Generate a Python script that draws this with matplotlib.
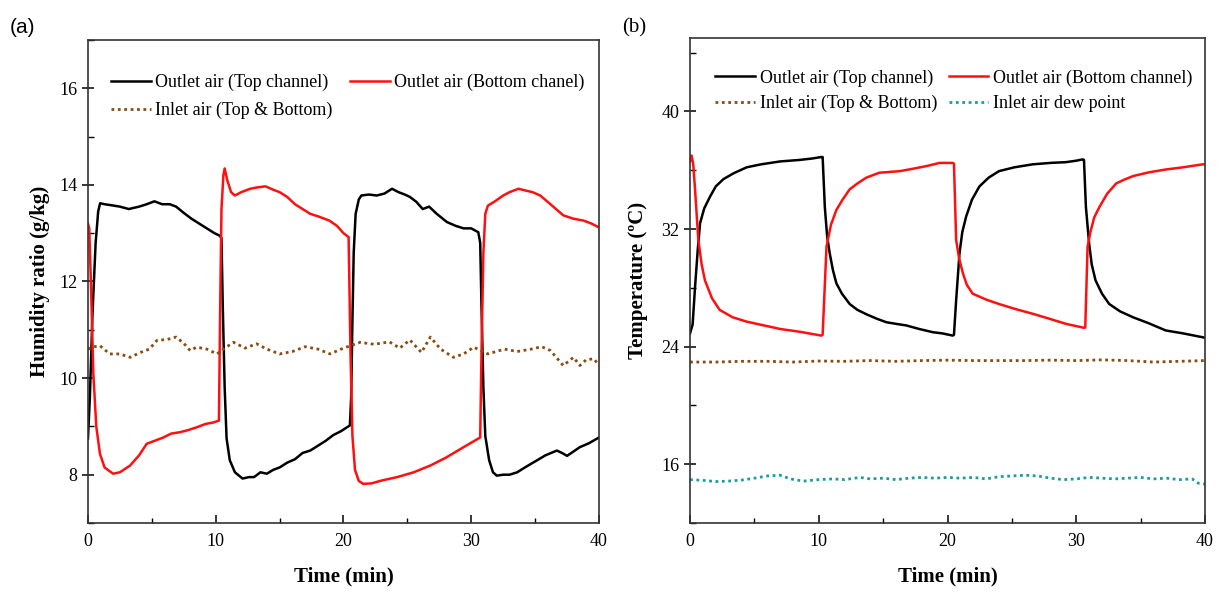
import matplotlib
matplotlib.use("Agg")
import matplotlib.pyplot as plt
from matplotlib.ticker import MultipleLocator

# ---------------- data: panel (a) humidity ratio ----------------
ta_top = [0, 0.15, 0.35, 0.6, 0.8, 0.95, 1.3, 1.8, 2.5, 3.2, 4.0, 4.6, 5.2, 5.8, 6.4, 6.9,
          7.5, 8.1, 8.7, 9.3, 9.9, 10.3, 10.45, 10.55, 10.7, 10.85, 11.1, 11.5, 12.1, 12.6,
          13.0, 13.5, 14.0, 14.5, 15.0, 15.6, 16.2, 16.8, 17.4, 18.0, 18.6, 19.2, 19.8, 20.5,
          20.6, 20.7, 20.8, 20.95, 21.2, 21.4, 22.0, 22.6, 23.2, 23.8, 24.3, 24.8, 25.2, 25.7,
          26.2, 26.7, 27.3, 28.1, 28.8, 29.4, 30.0, 30.55, 30.7, 30.8, 30.95, 31.1, 31.4, 31.7,
          32.0, 32.5, 33.0, 33.6, 34.2, 35.1, 35.8, 36.7, 37.1, 37.5, 38.0, 38.5, 39.2, 40.0]
ha_top = [8.75, 9.6, 11.3, 12.8, 13.45, 13.62, 13.6, 13.58, 13.55, 13.5, 13.55, 13.6, 13.66, 13.6, 13.6, 13.55,
          13.42, 13.3, 13.2, 13.1, 13.0, 12.95, 12.9, 11.5, 9.8, 8.75, 8.3, 8.05, 7.92, 7.95,
          7.95, 8.05, 8.02, 8.1, 8.15, 8.25, 8.32, 8.45, 8.5, 8.6, 8.7, 8.82, 8.9, 9.02,
          9.6, 11.2, 12.6, 13.4, 13.7, 13.78, 13.8, 13.78, 13.82, 13.92, 13.85, 13.8, 13.75, 13.65,
          13.5, 13.55, 13.4, 13.23, 13.15, 13.1, 13.1, 13.02, 12.8, 11.5, 9.8, 8.8, 8.3, 8.05,
          7.98, 8.0, 8.0, 8.05, 8.15, 8.29, 8.4, 8.5, 8.45, 8.39, 8.48, 8.57, 8.65, 8.77]

ta_bot = [0, 0.1, 0.25, 0.42, 0.65, 0.94, 1.3, 1.97, 2.5, 3.3, 4.0, 4.6, 5.2, 5.9, 6.5, 7.2,
          7.8, 8.5, 9.2, 9.8, 10.25, 10.35, 10.45, 10.6, 10.7, 10.9, 11.2, 11.5, 12.0, 12.7,
          13.3, 13.9, 14.5, 15.0, 15.6, 16.2, 16.8, 17.4, 18.0, 18.9, 19.5, 20.0, 20.4, 20.55,
          20.7, 20.9, 21.2, 21.55, 22.2, 23.0, 24.2, 25.5, 26.8, 28.0, 29.4, 30.7, 30.8, 30.95,
          31.1, 31.3, 31.8, 32.5, 33.0, 33.7, 34.3, 34.8, 35.4, 36.2, 37.2, 38.0, 38.8, 39.4, 40.0]
ha_bot = [13.2, 13.1, 11.8, 10.1, 9.0, 8.43, 8.15, 8.02, 8.05, 8.19, 8.4, 8.64, 8.7, 8.77, 8.85, 8.88,
          8.92, 8.98, 9.05, 9.08, 9.12, 11.5, 13.5, 14.2, 14.34, 14.1, 13.85, 13.78, 13.85, 13.92,
          13.95, 13.97, 13.9, 13.85, 13.75, 13.6, 13.5, 13.4, 13.35, 13.26, 13.15, 13.0, 12.92, 10.5,
          8.8, 8.1, 7.87, 7.81, 7.82, 7.88, 7.95, 8.05, 8.19, 8.35, 8.57, 8.77, 10.5, 12.6,
          13.4, 13.57, 13.65, 13.78, 13.85, 13.92, 13.88, 13.85, 13.78, 13.6, 13.37, 13.3, 13.26, 13.2, 13.12]

ta_in = [0, 0.5, 0.94, 1.7, 2.5, 3.3, 4.1, 4.8, 5.4, 6.2, 6.9, 7.5, 8.0, 8.5, 9.3, 10.1, 10.7,
         11.4, 12.3, 13.2, 14.0, 15.0, 16.0, 17.0, 18.0, 18.94, 20.0, 21.3, 22.4, 23.6, 24.4,
         25.2, 26.1, 26.8, 27.6, 28.6, 29.4, 30.2, 31.3, 32.6, 33.6, 34.7, 35.5, 36.2, 37.2,
         38.0, 38.5, 39.0, 39.6, 40.0]
ha_in = [10.6, 10.65, 10.67, 10.5, 10.5, 10.43, 10.53, 10.6, 10.78, 10.8, 10.85, 10.72, 10.57, 10.64, 10.6, 10.5, 10.62,
         10.74, 10.62, 10.71, 10.6, 10.5, 10.55, 10.65, 10.6, 10.5, 10.62, 10.74, 10.7, 10.75, 10.62,
         10.79, 10.53, 10.85, 10.6, 10.43, 10.5, 10.64, 10.5, 10.6, 10.55, 10.6, 10.65, 10.57, 10.26,
         10.43, 10.26, 10.38, 10.4, 10.26]

# ---------------- data: panel (b) temperature ----------------
tb_top = [0, 0.2, 0.39, 0.6, 0.78, 1.1, 1.55, 2.0, 2.6, 3.4, 4.4, 5.5, 7.0, 8.5, 9.5, 10.2, 10.3,
          10.47, 10.65, 10.85, 11.1, 11.37, 11.8, 12.4, 13.0, 13.7, 14.5, 15.25, 16.0, 16.8, 17.8,
          18.86, 19.6, 20.4, 20.5, 20.67, 20.93, 21.15, 21.45, 21.9, 22.48, 23.2, 24.0, 25.2, 26.6,
          28.0, 29.2, 30.0, 30.5, 30.6, 30.75, 31.0, 31.2, 31.5, 32.0, 32.56, 33.4, 34.4, 35.6,
          36.95, 38.3, 39.8, 40.0]
Tb_top = [24.9, 25.5, 28.06, 30.6, 32.4, 33.4, 34.2, 34.9, 35.4, 35.8, 36.2, 36.4, 36.6, 36.7, 36.8, 36.9, 36.9,
          33.5, 31.5, 30.35, 29.2, 28.3, 27.6, 26.9, 26.5, 26.2, 25.9, 25.66, 25.55, 25.44, 25.2,
          24.98, 24.9, 24.75, 24.8, 27.15, 30.35, 31.8, 32.86, 34.0, 34.9, 35.5, 35.94, 36.2, 36.4,
          36.5, 36.55, 36.65, 36.74, 36.7, 33.5, 31.0, 29.6, 28.5, 27.6, 26.9, 26.4, 26.0, 25.6,
          25.1, 24.9, 24.64, 24.6]

tb_bot = [0, 0.12, 0.25, 0.39, 0.64, 0.9, 1.16, 1.7, 2.3, 3.3, 4.4, 5.7, 7.0, 8.6, 10.2, 10.3,
          10.6, 10.95, 11.37, 11.85, 12.4, 13.0, 13.7, 14.7, 16.3, 17.3, 18.35, 19.4, 20.4, 20.5,
          20.67, 20.9, 21.2, 21.5, 21.96, 23.0, 24.0, 25.3, 26.6, 27.9, 29.2, 30.6, 30.7, 30.88,
          31.1, 31.4, 31.8, 32.4, 33.1, 33.7, 34.4, 35.6, 36.95, 38.3, 39.8, 40.0]
Tb_bot = [36.6, 37.0, 36.4, 34.7, 31.3, 29.6, 28.5, 27.3, 26.5, 26.0, 25.7, 25.45, 25.2, 25.0, 24.75, 24.8,
          30.8, 32.3, 33.3, 34.0, 34.7, 35.1, 35.5, 35.83, 35.94, 36.1, 36.28, 36.5, 36.5, 36.45,
          31.26, 30.0, 28.98, 28.2, 27.6, 27.2, 26.9, 26.55, 26.24, 25.9, 25.55, 25.28, 25.3, 30.8,
          31.8, 32.8, 33.5, 34.4, 35.1, 35.35, 35.6, 35.85, 36.05, 36.2, 36.4, 36.4]

tb_in = [0, 2, 4, 6, 8, 10, 12, 14, 16, 18, 20, 22, 24, 26, 28, 30, 32, 34, 36, 38, 40]
Tb_in = [22.95, 22.95, 23.0, 23.0, 22.95, 23.02, 23.0, 23.05, 23.0, 23.05, 23.08, 23.05, 23.05,
         23.05, 23.08, 23.05, 23.1, 23.05, 22.95, 23.0, 23.05]

tb_dew = [0, 1, 2, 3, 4, 5, 6, 7, 7.8, 8.8, 10, 11.1, 12, 13.2, 14, 15, 16, 17, 18, 19, 20, 21,
          22, 23, 24, 25, 26, 27, 28, 29, 30, 31, 32, 33, 34, 35, 36, 37, 38, 39, 39.5, 40]
Tb_dew = [14.95, 14.9, 14.82, 14.85, 14.92, 15.05, 15.2, 15.25, 15.0, 14.85, 14.95, 15.0, 14.95, 15.1,
          15.0, 15.05, 14.95, 15.05, 15.1, 15.05, 15.1, 15.05, 15.1, 15.0, 15.15, 15.2, 15.25, 15.2,
          15.05, 14.95, 15.0, 15.1, 15.05, 15.0, 15.05, 15.1, 15.0, 15.05, 14.95, 15.0, 14.7, 14.65]

lab_top = "Outlet air (Top channel)"
lab_bot_a = "Outlet air (Bottom chanel)"
lab_bot_b = "Outlet air (Bottom channel)"
lab_in = "Inlet air (Top & Bottom)"
lab_dew = "Inlet air dew point"

# ---------------- styling ----------------
plt.rcParams['font.family'] = ['Liberation Serif', 'DejaVu Serif']

BROWN = '#8b4a10'
TEAL = '#1a9e9a'
DOT = (0, (1.0, 1.3))

fig = plt.figure(figsize=(12.2, 5.96), dpi=100)
axa = fig.add_axes([0.0721, 0.1225, 0.4189, 0.8104])
axb = fig.add_axes([0.5656, 0.1225, 0.4221, 0.8138])


def style(ax):
    for s in ax.spines.values():
        s.set_linewidth(1.2)
        s.set_color('#333333')
    ax.tick_params(axis='x', which='major', direction='in', length=6, width=1.1, labelsize=13, pad=7)
    ax.tick_params(axis='x', which='minor', direction='in', length=3.5, width=1.0)
    ax.tick_params(axis='y', which='major', direction='inout', length=9, width=1.1, labelsize=13, pad=3)
    ax.tick_params(axis='y', which='minor', direction='in', length=4, width=1.0)
    ax.set_xlim(0, 40)
    ax.xaxis.set_major_locator(MultipleLocator(10))
    ax.xaxis.set_minor_locator(MultipleLocator(5))
    ax.set_xlabel("Time (min)", fontsize=15, fontweight='bold', labelpad=12)


LEG = dict(loc='upper left', ncol=2, frameon=False, fontsize=13, handlelength=2.2,
           handletextpad=0.25, borderaxespad=0)

# panel (a)
l1, = axa.plot(ta_top, ha_top, color='black', lw=1.8, label=lab_top)
l2, = axa.plot(ta_bot, ha_bot, color='#ff1010', lw=1.8, label=lab_bot_a)
l3, = axa.plot(ta_in, ha_in, color=BROWN, lw=2.0, ls=DOT, label=lab_in)
style(axa)
axa.set_ylim(7, 17)
axa.yaxis.set_major_locator(MultipleLocator(2))
axa.yaxis.set_minor_locator(MultipleLocator(1))
axa.set_ylabel("Humidity ratio (g/kg)", fontsize=15, fontweight='bold', labelpad=7)
axa.legend(handles=[l1, l3, l2], bbox_to_anchor=(0.031, 0.945),
           columnspacing=0.95, labelspacing=0.6, **LEG)
fig.text(0.008, 0.945, "(a)", fontsize=15, family=['Liberation Sans', 'DejaVu Sans'])

# panel (b)
m1, = axb.plot(tb_top, Tb_top, color='black', lw=1.8, label=lab_top)
m2, = axb.plot(tb_bot, Tb_bot, color='#ff1010', lw=1.8, label=lab_bot_b)
m3, = axb.plot(tb_in, Tb_in, color=BROWN, lw=2.0, ls=DOT, label=lab_in)
m4, = axb.plot(tb_dew, Tb_dew, color=TEAL, lw=2.0, ls=DOT, label=lab_dew)
style(axb)
axb.set_ylim(12, 45)
axb.set_yticks([16, 24, 32, 40])
axb.yaxis.set_minor_locator(MultipleLocator(4))
axb.set_ylabel("Temperature (ºC)", fontsize=15, fontweight='bold', labelpad=10)
axb.legend(handles=[m1, m3, m2, m4], bbox_to_anchor=(0.035, 0.95),
           columnspacing=0.65, labelspacing=0.45, **LEG)
fig.text(0.51, 0.945, "(b)", fontsize=15)

fig.savefig("out.png", dpi=100)
